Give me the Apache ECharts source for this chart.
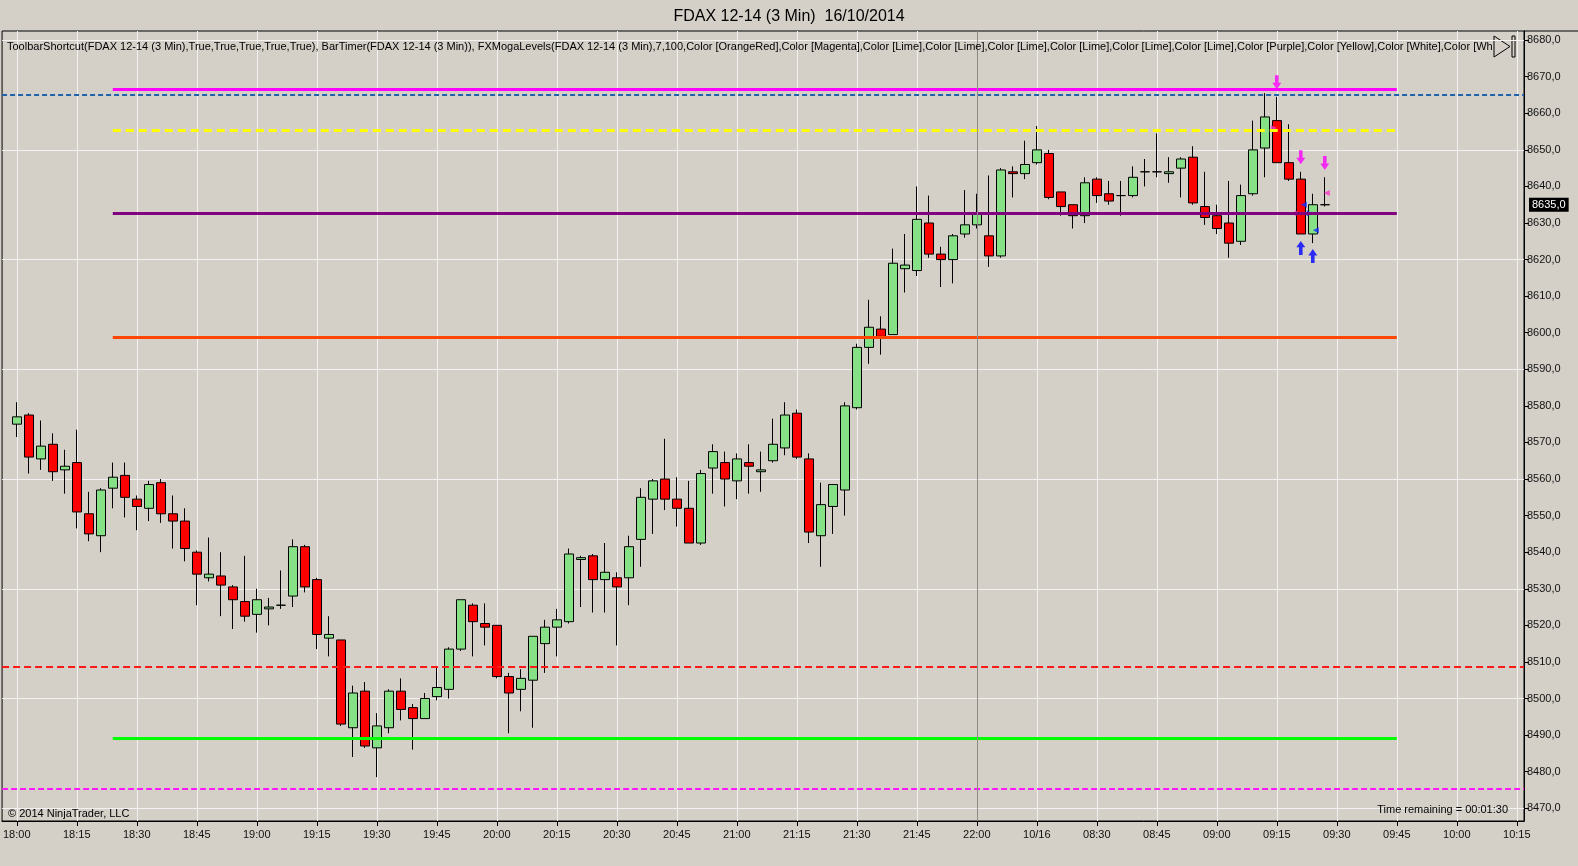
<!DOCTYPE html>
<html><head><meta charset="utf-8">
<script src="https://cdn.jsdelivr.net/npm/echarts@6/dist/echarts.min.js"></script>
<style>html,body{margin:0;padding:0;background:#d4d0c8;}#c{width:1578px;height:866px;}</style>
</head><body><div id="c"></div>
<script>
// ---- data ----
const tickLabels = ['18:00','18:15','18:30','18:45','19:00','19:15','19:30','19:45','20:00','20:15','20:30','20:45','21:00','21:15','21:30','21:45','22:00','10/16','08:30','08:45','09:00','09:15','09:30','09:45','10:00','10:15'];
const opens = [8575,8577.5,8565.5,8569.5,8562.5,8564.5,8550.5,8544.5,8557.5,8561,
8554.5,8552,8559,8550.5,8548.5,8540,8533,8533.5,8530.5,8526.5,
8523,8524.5,8525.5,8528,8541.5,8532.5,8516.5,8516,8492,8502,
8486.5,8492,8502,8497.5,8494.5,8500.5,8502.5,8513.5,8525.5,8520.5,
8520,8506,8502.5,8505,8515,8519.5,8521,8538,8539,8532.5,
8533,8533,8543.5,8554.5,8560,8554.5,8552,8542.5,8563,8564.5,
8559.5,8564.5,8562,8565,8568.5,8578,8565.5,8544.5,8552.5,8557,
8579.5,8596,8601,8599.5,8617.5,8617,8630,8621.5,8620,8627,
8629.5,8626.5,8621,8644,8643.5,8646.5,8649,8638.5,8635,8632,
8642,8638,8637.5,8637.5,8644,8644,8643.5,8645,8648,8634.5,
8632,8630,8625,8638,8650.5,8658,8646.5,8642,8627,8635];
const closes = [8577,8566,8569,8562,8563.5,8551,8545,8557,8560.5,8555,
8552.5,8558.5,8550.5,8548.5,8541,8534,8534,8531,8527,8522.5,
8527,8525,8525.5,8541.5,8530.5,8517.5,8517.5,8493,8501.5,8487,
8492.5,8502,8497,8494.5,8500,8503,8513.5,8527,8521,8519.5,
8506,8501.5,8505.5,8517,8519.5,8521.5,8539.5,8538.5,8532.5,8534.5,
8530.5,8541.5,8555,8559.5,8554.5,8552,8542.5,8561.5,8567.5,8560,
8565.5,8563.5,8562.5,8569.5,8577.5,8566,8545.5,8553,8558.5,8580,
8596,8601.5,8599,8619,8618.5,8631,8621.5,8620,8626.5,8629.5,
8632.5,8621,8644.5,8643.5,8646,8650,8637,8634.5,8632,8641,
8637.5,8636,8637.5,8642.5,8644,8644,8644,8647.5,8635.5,8631.5,
8628.5,8624.5,8637.5,8650,8659,8646.5,8642,8627,8635,8635];
const lows = [8571.5,8561.5,8562.5,8559.5,8556,8546.5,8543,8540,8552,8549.5,
8546,8548.5,8548,8541,8537.5,8525.5,8532,8522.5,8519,8521,
8518,8520,8524.5,8525,8529,8513.5,8511.5,8492.5,8484,8486.5,
8478.5,8490.5,8494,8486,8494.5,8499.5,8500,8513,8511.5,8514.5,
8505.5,8490.5,8496.5,8492,8507,8511.5,8520.5,8525,8523.5,8523.5,
8514.5,8525.5,8536,8545,8551.5,8547,8542.5,8542,8556,8552.5,
8554.5,8556,8556.5,8564.5,8566.5,8565.5,8542.5,8536,8545,8550,
8579,8591.5,8594,8599.5,8611,8615.5,8620.5,8612.5,8613.5,8626,
8628.5,8618,8620.5,8637,8642,8646,8636.5,8632,8628.5,8630,
8635.5,8635,8632,8637,8640,8642.5,8641,8637,8635,8629.5,
8627,8620.5,8624,8637.5,8642.5,8646.5,8641.5,8627,8624.5,8634.5];
const highs = [8581,8578,8576,8572.5,8568,8573.5,8556.5,8557.5,8564.5,8564.5,
8555.5,8559.5,8560,8555.5,8552,8540.5,8544,8540,8531,8539,
8530,8527.5,8535,8543.5,8542,8533,8522.5,8516,8503.5,8504.5,
8496,8502.5,8505.5,8498.5,8501.5,8508.5,8514,8527,8526,8526,
8520,8507,8508,8517,8521.5,8524.5,8541,8539,8539.5,8542.5,
8534.5,8544.5,8557.5,8560,8571,8560.5,8559.5,8562.5,8569.5,8567.5,
8567,8569.5,8567.5,8576.5,8581,8579,8567,8559,8558.5,8581,
8597,8609,8604.5,8623,8627,8640,8637.5,8623.5,8627,8639,
8638,8643,8645,8645.5,8652.5,8656.5,8650,8638.5,8635,8642.5,
8642.5,8641.5,8641.5,8645.5,8647.5,8654.5,8648,8648,8651,8644,
8635,8641.5,8640.5,8658,8665.5,8664.5,8657,8644,8638,8642.5];
const yTickValues = [8470,8480,8490,8500,8510,8520,8530,8540,8550,8560,8570,8580,8590,8600,8610,8620,8630,8640,8650,8660,8670,8680];
const yGridValues = [8470,8500,8530,8560,8590,8620,8650,8680];
const dashedLevels = [8665.2, 8508.7, 8475.3];
const segmentLevels = [8666.6, 8655.3, 8632.7, 8598.8, 8489.0];
const segmentRange = [8, 115];
const sessionBreakIndex = 80;
const lastPrice = 8635;
const downArrows = [[105, 8668.5], [107, 8648], [109, 8646.4]];
const upArrows = [[107, 8623.2], [108, 8621]];
const magentaTriangles = [[105, 8656], [107, 8632.7], [109, 8638.2]];
const blueTriangles = [[107, 8635], [108, 8632.7], [108, 8628]];
const titleText = 'FDAX 12-14 (3 Min)  16/10/2014';
const indicatorText = 'ToolbarShortcut(FDAX 12-14 (3 Min),True,True,True,True,True), BarTimer(FDAX 12-14 (3 Min)), FXMogaLevels(FDAX 12-14 (3 Min),7,100,Color [OrangeRed],Color [Magenta],Color [Lime],Color [Lime],Color [Lime],Color [Lime],Color [Lime],Color [Lime],Color [Purple],Color [Yellow],Color [White],Color [White],Color [White]';
const copyrightText = '\u00a9 2014 NinjaTrader, LLC';
const timerText = 'Time remaining = 00:01:30';

// ---- styles ----
const dashedStyles = [
  {color:'#1f62b0', width:2, type:[5,3]},
  {color:'#ff1a1a', width:2, type:[7,4]},
  {color:'#ff1aff', width:2, type:[6,3]}
];
const segmentStyles = [
  {color:'#ff00ff', width:3, type:'solid'},
  {color:'#ffff00', width:3, type:[8,5]},
  {color:'#800080', width:3, type:'solid'},
  {color:'#ff4500', width:3, type:'solid'},
  {color:'#00ff00', width:3, type:'solid'}
];
const fmt = v => v.toFixed(1).replace('.', ',');
const xTickIdx = tickLabels.map((_, i) => i * 5);

const candleData = opens.map((o, i) => [i, o, closes[i], lows[i], highs[i]]);

const levelMarks = [];
dashedLevels.forEach((v, i) => levelMarks.push({yAxis: v, lineStyle: dashedStyles[i]}));
segmentLevels.forEach((v, i) => levelMarks.push([
  {coord: [segmentRange[0], v], lineStyle: segmentStyles[i]},
  {coord: [segmentRange[1], v]}
]));
levelMarks.push({xAxis: sessionBreakIndex, lineStyle: {color:'#8e8a86', width:1, type:'solid'}});

const downPath = 'path://M3,0 L7,0 L7,7 L10,7 L5,13 L0,7 L3,7 Z';
const upPath = 'path://M3,13 L7,13 L7,6 L10,6 L5,0 L0,6 L3,6 Z';

const chart = echarts.init(document.getElementById('c'), null, {renderer:'canvas'});
chart.setOption({
  animation: false,
  backgroundColor: '#d4d0c8',
  textStyle: {fontFamily: 'Arial, "Liberation Sans", sans-serif'},
  title: [
    {text: titleText, left: 'center', top: 4, textStyle: {fontSize: 16, fontWeight: 'normal', color: '#000'}},
    {text: indicatorText, left: 2, top: 36, textStyle: {fontSize: 11, fontWeight: 'normal', color: '#000', width: 1488, overflow: 'truncate', ellipsis: ''}},
    {text: copyrightText, left: 3, top: 803, textStyle: {fontSize: 11, fontWeight: 'normal', color: '#000'}},
    {text: timerText, right: 65, top: 799, textStyle: {fontSize: 11, fontWeight: 'normal', color: '#000'}}
  ],
  grid: {left: 2, top: 31, width: 1522, height: 790, show: true, borderColor: '#000', borderWidth: 1, backgroundColor: 'transparent'},
  xAxis: {
    type: 'value', min: -1.225, max: 125.6,
    axisLine: {show: true, onZero: false, lineStyle: {color: '#000'}},
    axisTick: {show: true, length: 5, customValues: xTickIdx, lineStyle: {color: '#000'}},
    axisLabel: {customValues: xTickIdx, formatter: v => tickLabels[Math.round(v / 5)], fontSize: 11, color: '#111', margin: 8},
    splitLine: {show: true, lineStyle: {color: '#f2f2f2', width: 1}}
  },
  yAxis: [
    {
      type: 'value', position: 'right', min: 8466.5, max: 8682.5,
      axisLine: {show: true, onZero: false, lineStyle: {color: '#000'}},
      axisTick: {show: true, length: 5, customValues: yTickValues, lineStyle: {color: '#000'}},
      axisLabel: {customValues: yTickValues, formatter: fmt, fontSize: 11, color: '#111', margin: 3},
      splitLine: {show: false}
    },
    {
      type: 'value', position: 'right', min: 8466.5, max: 8682.5,
      axisLine: {show: false, onZero: false},
      axisTick: {show: false, customValues: yGridValues},
      axisLabel: {show: false},
      splitLine: {show: true, lineStyle: {color: '#f2f2f2', width: 1}}
    }
  ],
  graphic: [
    {type: 'polygon', shape: {points: [[1494, 36], [1494, 57], [1510, 46.5]]}, style: {fill: 'none', stroke: '#000', lineWidth: 1}},
    {type: 'rect', shape: {x: 1512, y: 36, width: 3, height: 21}, style: {fill: 'none', stroke: '#000', lineWidth: 1}},
    {type: 'line', shape: {x1: 1524, y1: 31, x2: 1578, y2: 31}, style: {stroke: '#000', lineWidth: 1}}
  ],
  series: [
    {
      type: 'line', data: [], z: 1, silent: true,
      markLine: {silent: true, symbol: ['none', 'none'], animation: false, label: {show: false}, data: levelMarks}
    },
    {
      type: 'candlestick', data: candleData, barWidth: 9, z: 3,
      itemStyle: {color: '#86e086', color0: '#ff0000', borderColor: '#000', borderColor0: '#000', borderColorDoji: '#000', borderWidth: 1}
    },
    {
      type: 'line', data: [], z: 5, silent: true,
      markLine: {
        silent: true, symbol: ['none', 'none'], animation: false,
        data: [{yAxis: lastPrice, lineStyle: {color: 'rgba(0,0,0,0)', width: 1}, label: {show: true, position: 'end', distance: 5, formatter: p => fmt(p.value), backgroundColor: '#000', color: '#fff', fontSize: 11, padding: [2, 3, 1, 3]}}]
      }
    },
    {
      type: 'scatter', z: 4, silent: true, data: downArrows, symbol: downPath, symbolSize: [9, 14],
      itemStyle: {color: '#ff00ff'}
    },
    {
      type: 'scatter', z: 4, silent: true, data: upArrows, symbol: upPath, symbolSize: [9, 14],
      itemStyle: {color: '#0000ff'}
    },
    {
      type: 'scatter', z: 4, silent: true, symbol: 'triangle', symbolSize: [6, 6],
      data: magentaTriangles.map((d, i) => ({value: d, symbolRotate: i === 2 ? 90 : -90, symbolOffset: [i === 2 ? 2 : -3, 0]})),
      itemStyle: {color: '#ff33cc'}
    },
    {
      type: 'scatter', z: 4, silent: true, symbol: 'triangle', symbolSize: [6, 6],
      data: blueTriangles.map((d, i) => ({value: d, symbolRotate: i === 1 ? -90 : 90, symbolOffset: [i === 0 ? 3 : (i === 1 ? -3 : 3), 0]})),
      itemStyle: {color: '#1030ff'}
    }
  ]
});
</script></body></html>
